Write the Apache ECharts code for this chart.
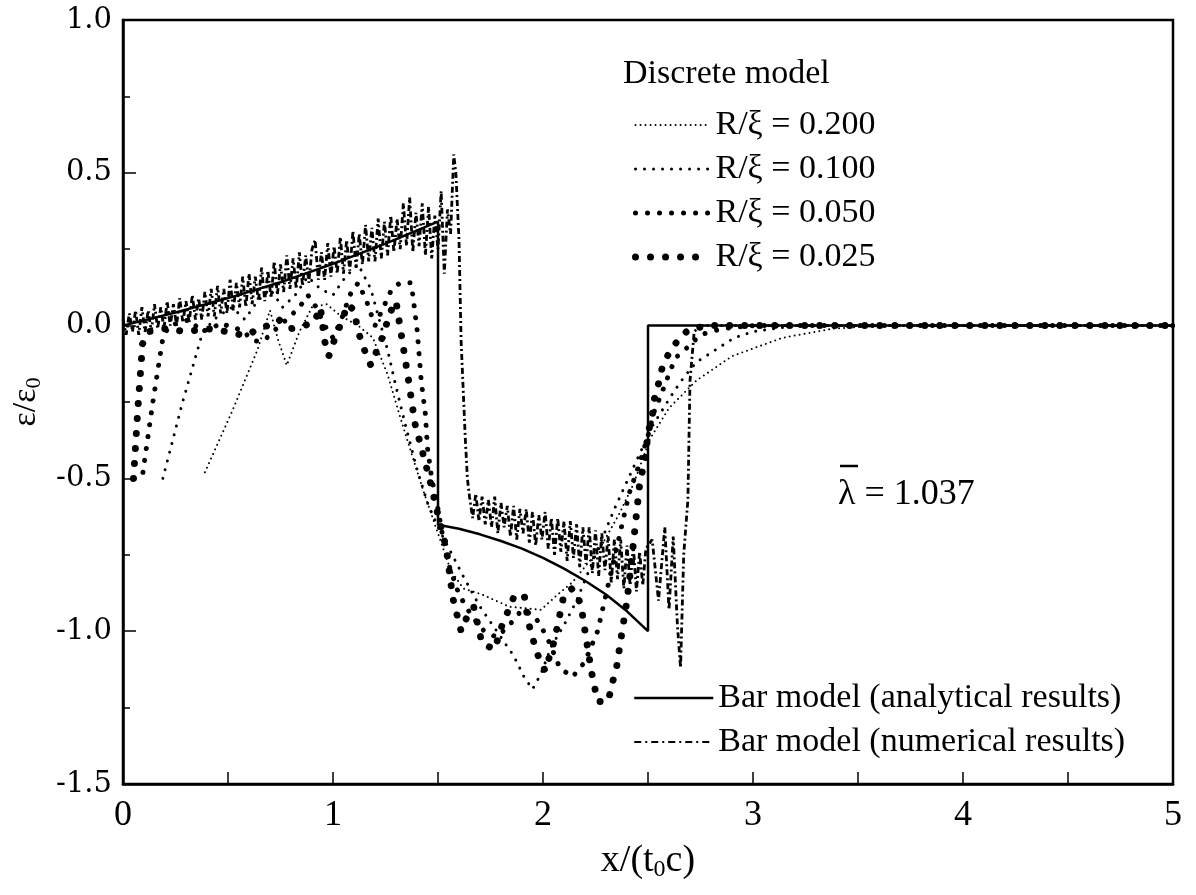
<!DOCTYPE html>
<html>
<head>
<meta charset="utf-8">
<script src="https://cdn.jsdelivr.net/npm/echarts@6/dist/echarts.min.js"></script>
<style>
html, body { margin: 0; padding: 0; background: #fff; }
#chart { width: 1196px; height: 895px; }
</style>
</head>
<body>
<div id="chart"></div>
<script>
// bar model, analytical
var analytical = [[0,0],[0.25,0.043],[0.5,0.09],[0.75,0.142],[1.0,0.202],[1.25,0.268],[1.5,0.34],
  [1.5,-0.652],[1.6,-0.665],[1.7,-0.683],[1.8,-0.705],[1.9,-0.73],[2.0,-0.76],[2.1,-0.795],
  [2.2,-0.835],[2.3,-0.88],[2.4,-0.935],[2.5,-1.0],[2.5,0],[5,0]];

// bar model, numerical (noisy)
var numerical = [[0,0.02],[0.015,-0.03],[0.03,0.04],[0.045,-0.02],[0.06,0.05],[0.075,-0.03],
  [0.09,0.06],[0.105,-0.02],[0.12,0.05],[0.135,-0.02],[0.15,0.07],[0.165,-0.01],[0.18,0.06],
  [0.195,-0.01],[0.21,0.08],[0.225,0.0],[0.24,0.07],[0.255,0.0],[0.27,0.09],[0.285,0.01],
  [0.3,0.08],[0.315,0.01],[0.33,0.1],[0.345,0.02],[0.36,0.09],[0.375,0.02],[0.39,0.11],
  [0.405,0.03],[0.42,0.12],[0.435,0.03],[0.45,0.13],[0.465,0.04],[0.48,0.12],[0.495,0.04],
  [0.51,0.15],[0.525,0.05],[0.54,0.14],[0.555,0.06],[0.57,0.16],[0.585,0.06],[0.6,0.17],
  [0.615,0.07],[0.63,0.16],[0.645,0.08],[0.66,0.19],[0.675,0.08],[0.69,0.18],[0.705,0.09],
  [0.72,0.21],[0.735,0.1],[0.75,0.2],[0.765,0.11],[0.78,0.23],[0.795,0.12],[0.81,0.22],
  [0.825,0.12],[0.84,0.24],[0.855,0.13],[0.87,0.23],[0.885,0.14],[0.9,0.25],[0.915,0.28],
  [0.93,0.15],[0.945,0.24],[0.96,0.15],[0.975,0.27],[0.99,0.16],[1.005,0.26],[1.02,0.17],
  [1.035,0.29],[1.05,0.17],[1.065,0.28],[1.08,0.18],[1.095,0.31],[1.11,0.19],[1.125,0.3],
  [1.14,0.2],[1.155,0.33],[1.17,0.21],[1.185,0.32],[1.2,0.21],[1.215,0.35],[1.23,0.22],
  [1.245,0.34],[1.26,0.23],[1.275,0.36],[1.29,0.24],[1.305,0.35],[1.32,0.25],[1.335,0.4],
  [1.35,0.26],[1.365,0.42],[1.38,0.24],[1.395,0.37],[1.41,0.26],[1.425,0.4],[1.44,0.23],
  [1.455,0.39],[1.47,0.22],[1.485,0.36],[1.5,0.25],[1.515,0.44],[1.53,0.17],[1.545,0.38],
  [1.56,0.3],[1.575,0.56],[1.585,0.5],[1.6,0.28],[1.61,-0.05],[1.63,-0.37],[1.64,-0.5],
  [1.65,-0.56],[1.665,-0.63],[1.68,-0.55],[1.695,-0.64],[1.71,-0.56],[1.725,-0.65],[1.74,-0.57],
  [1.755,-0.66],[1.77,-0.56],[1.785,-0.68],[1.8,-0.58],[1.815,-0.66],[1.83,-0.59],[1.845,-0.69],
  [1.86,-0.59],[1.875,-0.7],[1.89,-0.6],[1.905,-0.68],[1.92,-0.6],[1.935,-0.71],[1.95,-0.61],
  [1.965,-0.72],[1.98,-0.62],[1.995,-0.7],[2.01,-0.61],[2.025,-0.73],[2.04,-0.63],[2.055,-0.75],
  [2.07,-0.63],[2.085,-0.74],[2.1,-0.64],[2.115,-0.77],[2.13,-0.64],[2.145,-0.76],[2.16,-0.65],
  [2.175,-0.79],[2.19,-0.66],[2.205,-0.78],[2.22,-0.66],[2.235,-0.81],[2.25,-0.67],[2.265,-0.82],
  [2.28,-0.68],[2.295,-0.8],[2.31,-0.69],[2.325,-0.84],[2.34,-0.7],[2.355,-0.83],[2.37,-0.7],
  [2.385,-0.86],[2.4,-0.72],[2.415,-0.85],[2.43,-0.72],[2.445,-0.87],[2.46,-0.74],[2.475,-0.85],
  [2.49,-0.73],[2.52,-0.7],[2.55,-0.9],[2.58,-0.66],[2.6,-0.93],[2.62,-0.69],[2.64,-0.98],
  [2.655,-1.12],[2.67,-0.75],[2.69,-0.57],[2.7,-0.18],[2.72,-0.02],[2.75,0],[5,0]];

// discrete model, R/xi = 0.200
var d200 = [[0.39,-0.48],[0.52,-0.28],[0.64,-0.08],[0.70,0.05],[0.74,-0.05],[0.78,-0.13],[0.84,-0.02],
  [0.9,0.06],[0.97,0.07],[1.04,0.03],[1.12,0.0],[1.19,-0.04],[1.26,-0.16],[1.32,-0.3],[1.37,-0.41],
  [1.43,-0.54],[1.49,-0.66],[1.56,-0.8],[1.62,-0.86],[1.71,-0.88],[1.84,-0.92],[1.99,-0.93],
  [2.07,-0.88],[2.14,-0.84],[2.27,-0.73],[2.36,-0.62],[2.43,-0.52],[2.51,-0.37],[2.6,-0.27],
  [2.73,-0.18],[2.9,-0.1],[3.14,-0.04],[3.38,-0.01],[3.62,0],[5,0]];

// discrete model, R/xi = 0.100
var d100 = [[0.19,-0.5],[0.28,-0.26],[0.38,-0.02],[0.45,0.03],[0.52,0.06],[0.58,0.02],[0.64,0.08],
  [0.7,0.12],[0.76,0.06],[0.82,0.1],[0.88,0.16],[0.94,0.12],[1.0,0.1],[1.06,0.16],[1.12,0.2],
  [1.18,0.12],[1.22,0.02],[1.26,-0.08],[1.3,-0.2],[1.35,-0.34],[1.4,-0.47],[1.45,-0.58],[1.5,-0.66],
  [1.56,-0.74],[1.62,-0.82],[1.7,-0.92],[1.78,-1.0],[1.86,-1.08],[1.91,-1.15],[1.95,-1.19],
  [1.99,-1.14],[2.04,-1.05],[2.1,-0.98],[2.16,-0.9],[2.22,-0.8],[2.28,-0.7],[2.34,-0.6],
  [2.42,-0.48],[2.52,-0.33],[2.61,-0.23],[2.67,-0.17],[2.73,-0.12],[2.82,-0.08],[2.91,-0.04],
  [3.0,-0.02],[3.2,0],[5,0]];

// discrete model, R/xi = 0.050
var d050 = [[0.095,-0.48],[0.14,-0.26],[0.19,-0.04],[0.22,0.0],[0.27,0.01],[0.32,0.02],[0.37,-0.02],
  [0.42,-0.01],[0.47,0.01],[0.52,-0.01],[0.56,-0.01],[0.62,-0.05],[0.67,-0.05],[0.73,-0.01],
  [0.78,0.02],[0.84,0.06],[0.88,0.1],[0.92,0.06],[0.96,0.0],[1.0,-0.04],[1.04,0.02],[1.08,0.1],
  [1.12,0.14],[1.16,0.08],[1.2,0.0],[1.24,0.06],[1.28,0.12],[1.32,0.14],[1.37,0.14],[1.38,0.1],
  [1.4,-0.01],[1.42,-0.18],[1.44,-0.29],[1.45,-0.4],[1.47,-0.5],[1.5,-0.6],[1.52,-0.68],
  [1.55,-0.78],[1.6,-0.88],[1.66,-0.95],[1.72,-1.0],[1.78,-1.02],[1.84,-0.98],[1.9,-0.93],
  [1.96,-0.95],[2.02,-1.02],[2.08,-1.12],[2.14,-1.15],[2.2,-1.1],[2.26,-1.0],[2.31,-0.85],
  [2.36,-0.7],[2.41,-0.55],[2.46,-0.45],[2.5,-0.36],[2.53,-0.28],[2.56,-0.23],[2.61,-0.14],
  [2.64,-0.1],[2.69,-0.07],[2.75,-0.03],[2.85,-0.01],[3.0,0],[5,0]];

// discrete model, R/xi = 0.025
var d025 = [[0.05,-0.5],[0.07,-0.28],[0.093,-0.06],[0.12,-0.02],[0.2,-0.01],[0.3,-0.02],[0.4,-0.01],
  [0.5,-0.02],[0.56,-0.03],[0.6,-0.03],[0.64,-0.01],[0.69,0.0],[0.74,0.02],[0.8,-0.01],[0.86,0.0],
  [0.91,0.01],[0.94,0.06],[0.96,-0.05],[0.98,-0.1],[1.01,-0.04],[1.04,0.01],[1.07,0.07],[1.1,0.05],
  [1.12,-0.02],[1.15,-0.08],[1.18,-0.13],[1.21,-0.08],[1.24,-0.03],[1.27,0.04],[1.30,0.08],
  [1.33,-0.05],[1.36,-0.18],[1.39,-0.32],[1.44,-0.45],[1.47,-0.53],[1.5,-0.62],[1.54,-0.73],
  [1.57,-0.89],[1.61,-1.0],[1.64,-0.95],[1.67,-0.92],[1.71,-1.04],[1.77,-1.06],[1.8,-0.99],
  [1.86,-0.89],[1.91,-0.88],[1.93,-0.97],[1.97,-1.07],[2.01,-1.13],[2.05,-1.04],[2.07,-0.98],
  [2.1,-0.88],[2.14,-0.86],[2.18,-0.91],[2.2,-1.0],[2.23,-1.13],[2.26,-1.23],[2.31,-1.23],
  [2.33,-1.17],[2.35,-1.12],[2.37,-1.03],[2.4,-0.9],[2.42,-0.78],[2.44,-0.65],[2.46,-0.52],
  [2.49,-0.42],[2.5,-0.35],[2.52,-0.3],[2.53,-0.24],[2.55,-0.19],[2.57,-0.13],[2.6,-0.09],
  [2.65,-0.04],[2.7,-0.01],[2.8,0],[5,0]];

var discreteNames = ['R/\u03be = 0.200', 'R/\u03be = 0.100', 'R/\u03be = 0.050', 'R/\u03be = 0.025'];
var barNames = ['Bar model (analytical results)', 'Bar model (numerical results)'];

// dot diameter and dot pitch of each discrete series
var dotSize = [2, 3, 5, 7];
var dotGap = [5, 9, 12, 15];

var serif = 'Liberation Serif';
var numFont = 'DejaVu Serif';

function dotted(i, data) {
    return {
        name: discreteNames[i], type: 'line', data: data, symbol: 'none', silent: true,
        itemStyle: { color: '#000' },
        lineStyle: { color: '#000', width: dotSize[i], type: [0.01, dotGap[i]], cap: 'round' }
    };
}

function dotLegend(i) {
    return {
        name: discreteNames[i],
        itemStyle: { opacity: 0 },
        lineStyle: { color: '#000', width: dotSize[i], type: [0.01, dotGap[i]], cap: 'round' }
    };
}

var chart = echarts.init(document.getElementById('chart'));

var option = {
    animation: false,
    backgroundColor: '#fff',
    color: ['#000'],
    textStyle: { fontFamily: serif, color: '#000' },
    grid: {
        left: 123, right: 23, top: 20, bottom: 111,
        show: true, borderColor: '#000', borderWidth: 2.5
    },
    title: {
        text: 'Discrete model', left: 618, top: 52,
        textStyle: { fontFamily: serif, fontSize: 34, fontWeight: 'normal', color: '#000' }
    },
    legend: [
        {
            data: [dotLegend(0), dotLegend(1), dotLegend(2), dotLegend(3)],
            orient: 'vertical', left: 632, top: 108, padding: 0,
            itemWidth: 75, itemHeight: 14, itemGap: 10, selectedMode: false,
            textStyle: { fontFamily: serif, fontSize: 34, color: '#000' }
        },
        {
            data: [
                { name: barNames[0], itemStyle: { opacity: 0 },
                  lineStyle: { color: '#000', width: 2.5, type: 'solid' } },
                { name: barNames[1], itemStyle: { opacity: 0 },
                  lineStyle: { color: '#000', width: 2.2, type: [7, 4, 2, 4] } }
            ],
            orient: 'vertical', left: 633, top: 681, padding: 0,
            itemWidth: 79, itemHeight: 14, itemGap: 10, selectedMode: false,
            textStyle: { fontFamily: serif, fontSize: 34, color: '#000' }
        }
    ],
    xAxis: {
        type: 'value', min: 0, max: 5, interval: 1,
        name: 'x/(t{s|0}c)', nameLocation: 'middle', nameGap: 56,
        nameTextStyle: {
            fontFamily: serif, fontSize: 38, color: '#000',
            rich: { s: { fontFamily: serif, fontSize: 24, padding: [18, 0, 0, 0] } }
        },
        axisLine: { onZero: false, lineStyle: { color: '#000', width: 2.5 } },
        axisTick: { inside: true, length: 12, lineStyle: { color: '#000', width: 1.5 } },
        minorTick: { show: true, splitNumber: 2, length: 12, lineStyle: { color: '#000', width: 1.5 } },
        splitLine: { show: false },
        axisLabel: {
            margin: 14,
            formatter: function (v) { return '{t|' + v + '}'; },
            rich: { t: { fontFamily: serif, fontSize: 36, color: '#000' } }
        }
    },
    yAxis: {
        type: 'value', min: -1.5, max: 1, interval: 0.5,
        name: '\u03b5/\u03b5{s|0}', nameLocation: 'middle', nameGap: 78, nameRotate: 90,
        nameTextStyle: {
            fontFamily: serif, fontSize: 34, color: '#000',
            rich: { s: { fontFamily: serif, fontSize: 22, padding: [16, 0, 0, 0] } }
        },
        axisLine: { onZero: false, lineStyle: { color: '#000', width: 2.5 } },
        axisTick: { inside: true, length: 13, lineStyle: { color: '#000', width: 1.5 } },
        minorTick: { show: true, splitNumber: 2, length: 7, lineStyle: { color: '#000', width: 1.5 } },
        splitLine: { show: false },
        axisLabel: {
            margin: 11,
            formatter: function (v) { return '{t|' + v.toFixed(1) + '}'; },
            rich: { t: { fontFamily: numFont, fontSize: 29, color: '#000' } }
        }
    },
    graphic: [
        {
            type: 'text', left: 838, top: 477,
            style: { text: '\u03bb = 1.037', font: '36px "Liberation Serif"', fill: '#000' }
        },
        {
            type: 'line', shape: { x1: 840, y1: 466, x2: 858, y2: 466 },
            style: { stroke: '#000', lineWidth: 2.5 }
        }
    ],
    series: [
        dotted(0, d200),
        dotted(1, d100),
        dotted(2, d050),
        dotted(3, d025),
        {
            name: barNames[0], type: 'line', data: analytical, symbol: 'none', silent: true,
            itemStyle: { color: '#000' },
            lineStyle: { color: '#000', width: 2.5 }
        },
        {
            name: barNames[1], type: 'line', data: numerical, symbol: 'none', silent: true,
            itemStyle: { color: '#000' },
            lineStyle: { color: '#000', width: 2.8, type: [6, 3, 2, 3] }
        }
    ]
};

chart.setOption(option);
</script>
</body>
</html>
